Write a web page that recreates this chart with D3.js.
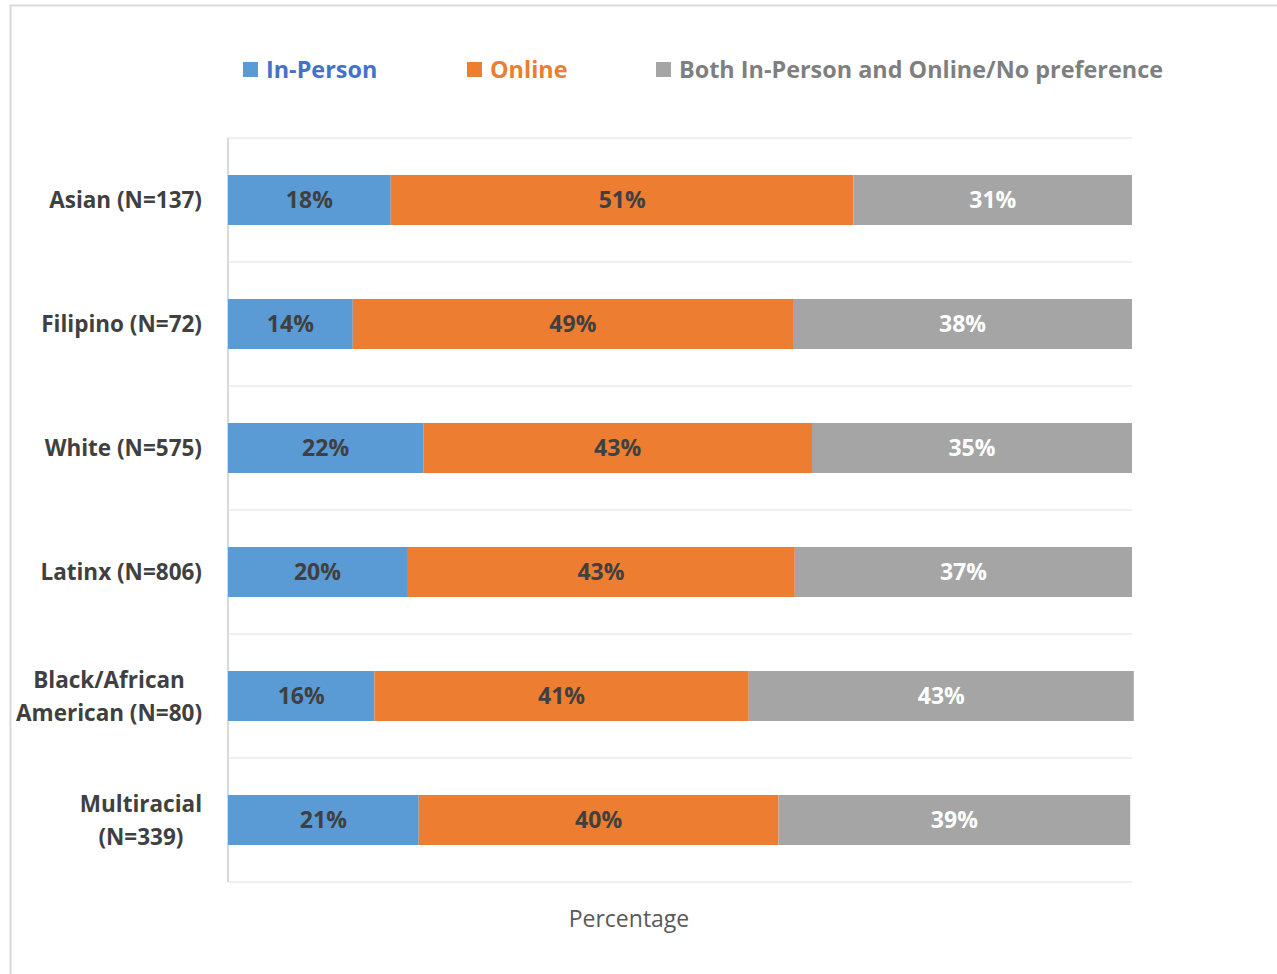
<!DOCTYPE html>
<html>
<head>
<meta charset="utf-8">
<script src="https://cdn.jsdelivr.net/npm/d3@7"></script>
<style>
  body { margin: 0; background: #fff; }
  text { font-family: "Open Sans", Lato, sans-serif; }
</style>
</head>
<body>
<svg id="svg1" width="1277" height="974"></svg>
<script>
// data
var groups = [
  "Asian (N=137)",
  "Filipino (N=72)",
  "White (N=575)",
  "Latinx (N=806)",
  "Black/African\nAmerican (N=80)",
  "Multiracial\n(N=339)"
];
var keys = ["In-Person", "Online", "Both In-Person and Online/No preference"];
var inPerson = [18.0, 13.8, 21.6, 19.8, 16.2, 21.1];
var online = [51.2, 48.7, 43.0, 42.9, 41.4, 39.8];
var both = [30.8, 37.5, 35.4, 37.3, 42.6, 38.9];

var fills = ["#5B9BD5", "#ED7D31", "#A5A5A5"];
var legendText = ["#4472C4", "#ED7D31", "#7F7F7F"];
var labelColor = ["#404040", "#404040", "#FFFFFF"];

var svg = d3.select("svg#svg1");

// outer frame
svg.append("rect")
  .attr("x", 10.5).attr("y", 5.5)
  .attr("width", 1290).attr("height", 1000)
  .attr("fill", "none")
  .attr("stroke", "#d9d9d9")
  .attr("stroke-width", 2);

var margin = { top: 138, right: 145, bottom: 92, left: 228 };
var width = 1277 - margin.left - margin.right;
var height = 974 - margin.top - margin.bottom;

var g = svg.append("g")
  .attr("transform", "translate(" + margin.left + "," + margin.top + ")");

var rows = groups.map(function(d, i) {
  return { group: d, "In-Person": inPerson[i], "Online": online[i],
    "Both In-Person and Online/No preference": both[i] };
});

var x = d3.scaleLinear().domain([0, 100]).range([0, width]);
var y = d3.scaleBand().domain(groups).range([0, height]).paddingInner(0).paddingOuter(0);
var z = d3.scaleOrdinal().domain(keys).range(fills);

// gridlines at band edges
var edges = groups.map(function(d) { return y(d); }).concat([height]);
g.append("g")
  .selectAll("line")
  .data(edges)
  .enter()
  .append("line")
  .attr("x1", 0).attr("x2", width)
  .attr("y1", function(d) { return d; })
  .attr("y2", function(d) { return d; })
  .attr("stroke", "#efefef")
  .attr("stroke-width", 2);

// left axis line
g.append("line")
  .attr("x1", 0).attr("x2", 0)
  .attr("y1", 0).attr("y2", height)
  .attr("stroke", "#d9d9d9")
  .attr("stroke-width", 2);

var barH = 50;
var series = d3.stack().keys(keys)(rows);

var layer = g.append("g")
  .selectAll("g")
  .data(series)
  .enter()
  .append("g")
  .attr("fill", function(d) { return z(d.key); });

layer.selectAll("rect")
  .data(function(d) { return d; })
  .enter()
  .append("rect")
  .attr("x", function(d) { return x(d[0]); })
  .attr("y", function(d) { return y(d.data.group) + y.bandwidth() / 2 - barH / 2; })
  .attr("width", function(d) { return x(d[1]) - x(d[0]); })
  .attr("height", barH);

layer.each(function(s, si) {
  d3.select(this).selectAll("text")
    .data(s)
    .enter()
    .append("text")
    .attr("x", function(d) { return (x(d[0]) + x(d[1])) / 2; })
    .attr("y", function(d) { return y(d.data.group) + y.bandwidth() / 2; })
    .attr("dy", "0.36em")
    .attr("text-anchor", "middle")
    .attr("fill", labelColor[si])
    .style("font-size", "23px")
    .style("font-weight", "bold")
    .text(function(d) { return Math.round(d[1] - d[0]) + "%"; });
});

// category labels, block right aligned, lines centred in block
groups.forEach(function(name) {
  var lines = name.split("\n");
  var t = svg.append("text")
    .attr("fill", "#404040")
    .style("font-size", "22.5px")
    .style("font-weight", "bold")
    .attr("text-anchor", "middle");
  var cy = margin.top + y(name) + y.bandwidth() / 2;
  var spans = t.selectAll("tspan")
    .data(lines)
    .enter()
    .append("tspan")
    .text(function(d) { return d; });
  var maxW = 0;
  spans.each(function() { maxW = Math.max(maxW, this.getComputedTextLength()); });
  var cx = 202 - maxW / 2;
  spans.attr("x", cx)
    .attr("y", function(d, i) { return cy + (i - (lines.length - 1) / 2) * 33; })
    .attr("dy", "0.36em");
});

// legend
var legendX = [243, 467, 656];
var legend = svg.append("g")
  .selectAll("g")
  .data(keys)
  .enter()
  .append("g")
  .attr("transform", function(d, i) { return "translate(" + legendX[i] + ",70)"; });

legend.append("rect")
  .attr("x", 0).attr("y", -8)
  .attr("width", 15).attr("height", 15)
  .attr("fill", z);

legend.append("text")
  .attr("x", 23)
  .attr("dy", "0.36em")
  .attr("fill", function(d, i) { return legendText[i]; })
  .style("font-size", "23.4px")
  .style("font-weight", "bold")
  .text(function(d) { return d; });

// axis title
svg.append("text")
  .attr("x", 629)
  .attr("y", 919)
  .attr("dy", "0.36em")
  .attr("text-anchor", "middle")
  .attr("fill", "#595959")
  .style("font-size", "23px")
  .text("Percentage");
</script>
</body>
</html>
